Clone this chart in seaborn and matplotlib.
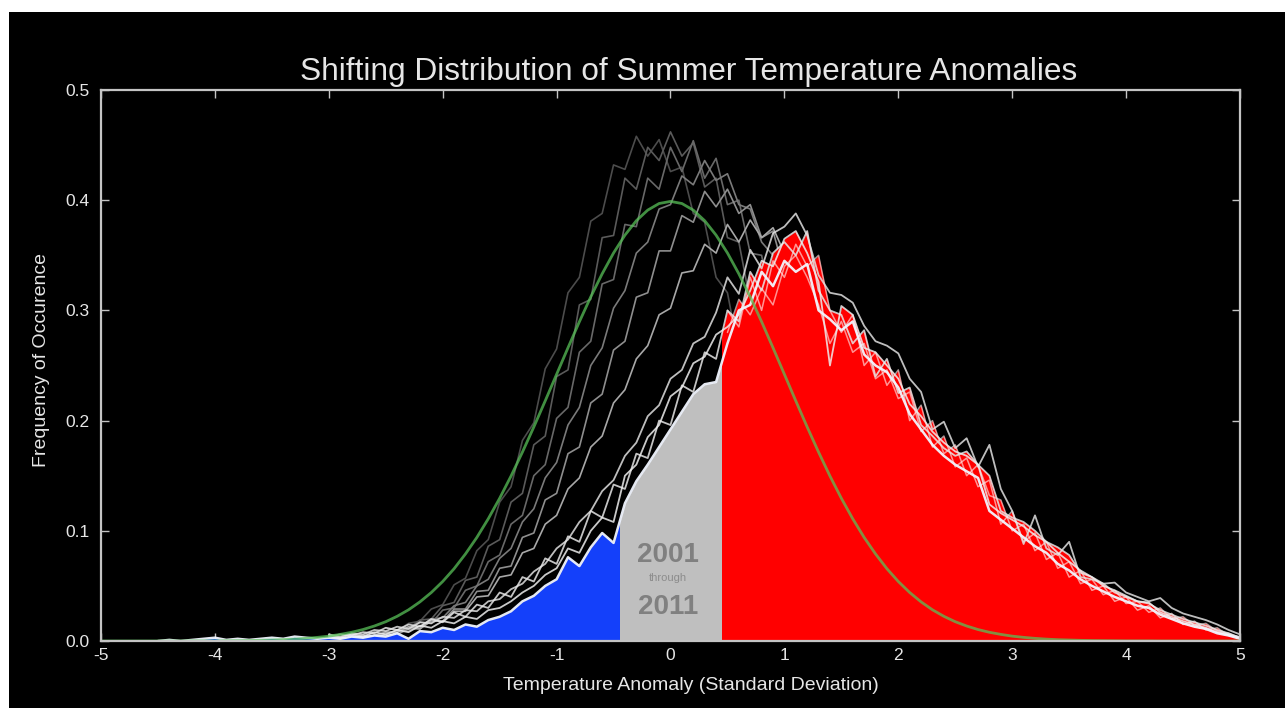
import numpy as np
import matplotlib
matplotlib.use("Agg")
import matplotlib.pyplot as plt
import seaborn as sns
from matplotlib.patches import Rectangle

# ---------------- data ----------------
STEP = 0.1

# reference normal curve (green), x = -5.0 .. 5.0
green_start = -5.0
green_y = [0.0000, 0.0000, 0.0000, 0.0000, 0.0000, 0.0000, 0.0000, 0.0000, 0.0001, 0.0001,
           0.0001, 0.0002, 0.0003, 0.0004, 0.0006, 0.0009, 0.0012, 0.0017, 0.0024, 0.0033,
           0.0044, 0.0060, 0.0079, 0.0104, 0.0136, 0.0175, 0.0224, 0.0283, 0.0355, 0.0440,
           0.0540, 0.0656, 0.0790, 0.0940, 0.1109, 0.1295, 0.1497, 0.1714, 0.1942, 0.2179,
           0.2420, 0.2661, 0.2897, 0.3123, 0.3332, 0.3521, 0.3683, 0.3814, 0.3910, 0.3970,
           0.3989,
           0.3970, 0.3910, 0.3814, 0.3683, 0.3521, 0.3332, 0.3123, 0.2897, 0.2661, 0.2420,
           0.2179, 0.1942, 0.1714, 0.1497, 0.1295, 0.1109, 0.0940, 0.0790, 0.0656, 0.0540,
           0.0440, 0.0355, 0.0283, 0.0224, 0.0175, 0.0136, 0.0104, 0.0079, 0.0060, 0.0044,
           0.0033, 0.0024, 0.0017, 0.0012, 0.0009, 0.0006, 0.0004, 0.0003, 0.0002, 0.0001,
           0.0001, 0.0001, 0.0000, 0.0000, 0.0000, 0.0000, 0.0000, 0.0000, 0.0000, 0.0000]

# earlier years (grey lines), x = -3.0 .. 1.5
old_start = -3.0
old_c1 = [0.001, 0.002, 0.002, 0.004, 0.004, 0.008, 0.009, 0.016, 0.018, 0.029,
          0.033, 0.051, 0.057, 0.082, 0.092, 0.126, 0.140, 0.182, 0.198, 0.247,
          0.265, 0.316, 0.330, 0.381, 0.388, 0.432, 0.428, 0.458, 0.440, 0.455,
          0.426, 0.430, 0.388, 0.380, 0.330, 0.316, 0.262, 0.246, 0.196, 0.180,
          0.138, 0.124, 0.091, 0.080, 0.057, 0.049]
old_c2 = [0.001, 0.001, 0.003, 0.003, 0.005, 0.006, 0.010, 0.011, 0.019, 0.020,
          0.032, 0.035, 0.055, 0.058, 0.086, 0.092, 0.126, 0.134, 0.178, 0.186,
          0.240, 0.246, 0.305, 0.310, 0.366, 0.368, 0.420, 0.410, 0.448, 0.436,
          0.462, 0.440, 0.452, 0.412, 0.420, 0.366, 0.362, 0.308, 0.300, 0.246,
          0.232, 0.186, 0.172, 0.132, 0.122, 0.088]
old_c3 = [0.002, 0.001, 0.003, 0.002, 0.005, 0.005, 0.010, 0.009, 0.017, 0.016,
          0.028, 0.030, 0.046, 0.050, 0.072, 0.078, 0.106, 0.114, 0.150, 0.160,
          0.202, 0.212, 0.262, 0.272, 0.324, 0.328, 0.378, 0.376, 0.420, 0.410,
          0.448, 0.426, 0.454, 0.420, 0.438, 0.396, 0.400, 0.352, 0.350, 0.298,
          0.290, 0.240, 0.232, 0.184, 0.174, 0.136]
old_c4 = [0.001, 0.002, 0.002, 0.004, 0.004, 0.007, 0.008, 0.012, 0.013, 0.020,
          0.021, 0.032, 0.035, 0.050, 0.056, 0.075, 0.084, 0.108, 0.120, 0.148,
          0.162, 0.196, 0.212, 0.250, 0.266, 0.302, 0.318, 0.352, 0.362, 0.392,
          0.396, 0.422, 0.414, 0.436, 0.418, 0.424, 0.396, 0.392, 0.362, 0.350,
          0.318, 0.300, 0.266, 0.246, 0.212, 0.190]
old_c5 = [0.001, 0.002, 0.002, 0.003, 0.004, 0.006, 0.006, 0.011, 0.011, 0.018,
          0.018, 0.029, 0.029, 0.045, 0.046, 0.066, 0.068, 0.094, 0.098, 0.128,
          0.134, 0.170, 0.176, 0.216, 0.224, 0.264, 0.272, 0.312, 0.316, 0.354,
          0.354, 0.386, 0.380, 0.408, 0.394, 0.410, 0.388, 0.396, 0.366, 0.372,
          0.334, 0.332, 0.292, 0.288, 0.246, 0.240]
old_c6 = [0.002, 0.003, 0.003, 0.005, 0.005, 0.008, 0.008, 0.013, 0.011, 0.019,
          0.018, 0.027, 0.027, 0.040, 0.041, 0.058, 0.060, 0.080, 0.084, 0.106,
          0.114, 0.138, 0.148, 0.176, 0.186, 0.216, 0.228, 0.256, 0.268, 0.296,
          0.302, 0.334, 0.336, 0.360, 0.352, 0.378, 0.362, 0.382, 0.366, 0.375,
          0.352, 0.360, 0.330, 0.330, 0.298, 0.292]

# 2001-2011 years (white lines), x = -3.0 .. 5.0 (w4 from -4.5)
new_start = -3.0
new_w1 = ([0.006, 0.004, 0.007, 0.006, 0.010, 0.009, 0.013, 0.011, 0.017, 0.016,
           0.022, 0.021, 0.028, 0.027, 0.036, 0.038, 0.047, 0.052, 0.063, 0.070,
           0.084, 0.092, 0.108, 0.118, 0.136, 0.146, 0.168, 0.180, 0.204, 0.214,
           0.238, 0.246, 0.270, 0.276, 0.298] +
          [0.330, 0.315, 0.355, 0.338, 0.370, 0.376, 0.388, 0.368, 0.332, 0.316,
           0.314, 0.307, 0.286, 0.272, 0.268, 0.261, 0.238, 0.226, 0.192, 0.199,
           0.175, 0.184, 0.158, 0.178, 0.138, 0.118, 0.088, 0.114, 0.084, 0.078,
           0.090, 0.058, 0.056, 0.052, 0.053, 0.044, 0.040, 0.036, 0.039, 0.030,
           0.025, 0.022, 0.019, 0.015, 0.010, 0.006])
new_w2 = ([0.004, 0.006, 0.005, 0.008, 0.007, 0.012, 0.010, 0.015, 0.013, 0.020,
           0.017, 0.026, 0.022, 0.033, 0.030, 0.044, 0.040, 0.058, 0.054, 0.075,
           0.070, 0.095, 0.090, 0.118, 0.112, 0.142, 0.138, 0.170, 0.166, 0.200,
           0.196, 0.232, 0.226, 0.262, 0.256] +
          [0.300, 0.290, 0.335, 0.318, 0.352, 0.362, 0.350, 0.372, 0.318, 0.300,
           0.296, 0.270, 0.282, 0.240, 0.256, 0.225, 0.230, 0.196, 0.186, 0.175,
           0.168, 0.172, 0.160, 0.150, 0.118, 0.112, 0.108, 0.100, 0.090, 0.085,
           0.078, 0.062, 0.058, 0.052, 0.044, 0.040, 0.036, 0.034, 0.028, 0.024,
           0.020, 0.017, 0.014, 0.010, 0.007, 0.003])
new_w3 = ([0.005, 0.003, 0.006, 0.004, 0.008, 0.006, 0.010, 0.008, 0.014, 0.012,
           0.018, 0.016, 0.022, 0.020, 0.028, 0.030, 0.036, 0.044, 0.050, 0.060,
           0.066, 0.084, 0.080, 0.100, 0.112, 0.108, 0.150, 0.160, 0.185, 0.196,
           0.222, 0.230, 0.252, 0.258, 0.278] +
          [0.285, 0.296, 0.318, 0.345, 0.340, 0.365, 0.372, 0.352, 0.326, 0.250,
           0.304, 0.296, 0.266, 0.262, 0.250, 0.238, 0.215, 0.204, 0.190, 0.180,
           0.172, 0.168, 0.160, 0.124, 0.116, 0.110, 0.104, 0.096, 0.090, 0.080,
           0.072, 0.064, 0.058, 0.050, 0.046, 0.041, 0.036, 0.035, 0.026, 0.022,
           0.018, 0.015, 0.012, 0.008, 0.006, 0.003])
w4_start = -4.5
new_w4 = ([0.000, 0.001, 0.000, 0.001, 0.002, 0.003, 0.001, 0.002, 0.001, 0.002,
           0.003, 0.002, 0.004, 0.003, 0.002] +
          [0.003, 0.002, 0.004, 0.003, 0.005, 0.004, 0.007, 0.002, 0.009, 0.008,
           0.012, 0.010, 0.015, 0.013, 0.019, 0.022, 0.027, 0.036, 0.041, 0.050,
           0.056, 0.076, 0.068, 0.085, 0.098, 0.089, 0.125, 0.145, 0.160, 0.176,
           0.192, 0.208, 0.224, 0.233, 0.235] +
          [0.270, 0.300, 0.305, 0.335, 0.322, 0.345, 0.335, 0.342, 0.300, 0.292,
           0.282, 0.290, 0.260, 0.250, 0.244, 0.230, 0.206, 0.192, 0.178, 0.168,
           0.160, 0.154, 0.148, 0.118, 0.110, 0.102, 0.094, 0.086, 0.080, 0.070,
           0.064, 0.056, 0.050, 0.045, 0.040, 0.036, 0.032, 0.030, 0.024, 0.020,
           0.016, 0.013, 0.011, 0.007, 0.005, 0.002])
# further 2001-2011 years inside the red area, x = 0.5 .. 5.0
warm_start = 0.5
new_w5 = [0.280, 0.310, 0.296, 0.320, 0.305, 0.340, 0.350, 0.330, 0.305, 0.270,
          0.290, 0.262, 0.270, 0.238, 0.246, 0.220, 0.226, 0.190, 0.200, 0.170,
          0.178, 0.150, 0.160, 0.132, 0.128, 0.100, 0.106, 0.082, 0.090, 0.066,
          0.072, 0.052, 0.056, 0.042, 0.046, 0.034, 0.036, 0.026, 0.030, 0.020,
          0.022, 0.014, 0.016, 0.009, 0.007, 0.003]
new_w6 = [0.300, 0.285, 0.330, 0.300, 0.345, 0.330, 0.360, 0.340, 0.350, 0.300,
          0.280, 0.296, 0.250, 0.262, 0.232, 0.246, 0.200, 0.214, 0.176, 0.186,
          0.158, 0.166, 0.140, 0.146, 0.106, 0.118, 0.090, 0.098, 0.074, 0.080,
          0.058, 0.064, 0.046, 0.050, 0.036, 0.040, 0.028, 0.032, 0.021, 0.025,
          0.015, 0.018, 0.010, 0.012, 0.005, 0.004]

cold_edge, hot_edge = -0.44, 0.45          # colour band boundaries
x_ticks = [-5, -4, -3, -2, -1, 0, 1, 2, 3, 4, 5]
y_ticks = [0.0, 0.1, 0.2, 0.3, 0.4, 0.5]
title = "Shifting Distribution of Summer Temperature Anomalies"
x_label = "Temperature Anomaly (Standard Deviation)"
y_label = "Frequency of Occurence"
band_text = ["2001", "through", "2011"]

# ---------------- styling ----------------
BLUE = "#1440fa"
RED = "#ff0000"
GREY = "#bfbfbf"
FRAME = "#c4c4c4"
TXT = "#e6e6e6"

sns.set_theme(style="dark")
plt.rcParams['font.family'] = ['Liberation Sans', 'DejaVu Sans']


def grid_for(arr, start):
    return np.round(start + STEP * np.arange(len(arr)), 3)


W, H = 1285, 708
fig = plt.figure(figsize=(W / 100, H / 100), dpi=100, facecolor="white")
fig.patches.append(Rectangle((9 / W, 0), 1, 1 - 12 / H, transform=fig.transFigure,
                             facecolor="black", edgecolor="none", zorder=-10))
ax = fig.add_axes([101 / W, 1 - 641 / H, (1240 - 101) / W, (641 - 90) / H])
ax.set_facecolor("black")
ax.grid(False)

# earlier years: grey lines (behind fills)
old_curves = [old_c1, old_c2, old_c3, old_c4, old_c5, old_c6]
old_cols = ["#4c4c4c", "#5a5a5a", "#686868", "#7a7a7a", "#8e8e8e", "#a8a8a8"]
for c, col in zip(old_curves, old_cols):
    sns.lineplot(x=grid_for(c, old_start), y=c, ax=ax, color=col, lw=1.2,
                 estimator=None, sort=False, legend=False, zorder=1)

x_w1 = grid_for(new_w1, new_start)
x_w2 = grid_for(new_w2, new_start)
x_w3 = grid_for(new_w3, new_start)
x_w4 = grid_for(new_w4, w4_start)
x_w5 = grid_for(new_w5, warm_start)
x_w6 = grid_for(new_w6, warm_start)


def clip_rect(x0, x1):
    return Rectangle((x0, -0.1), x1 - x0, 1.0, transform=ax.transData)


# coloured fills under the 2001-2011 distributions
fb = ax.fill_between(x_w4, 0, new_w4, color=BLUE, lw=0, zorder=2)
fb.set_clip_path(clip_rect(-5.5, cold_edge))
fg = ax.fill_between(x_w4, 0, new_w4, color=GREY, lw=0, zorder=2)
fg.set_clip_path(clip_rect(cold_edge, hot_edge))
for xx, c in [(x_w2, new_w2), (x_w3, new_w3), (x_w4, new_w4), (x_w5, new_w5), (x_w6, new_w6)]:
    fr = ax.fill_between(xx, 0, c, color=RED, lw=0, zorder=2)
    fr.set_clip_path(clip_rect(hot_edge, 5.5))

# 2001-2011 white lines
for xx, c, col, lw, a in [(x_w5, new_w5, "#ffe0e0", 1.1, 0.65),
                          (x_w6, new_w6, "#ffe6e6", 1.1, 0.65),
                          (x_w1, new_w1, "#e0e0e0", 1.3, 0.85),
                          (x_w2, new_w2, "#e6e6e6", 1.3, 0.85),
                          (x_w3, new_w3, "#eeeeee", 1.3, 0.85),
                          (x_w4, new_w4, "#f2f6ff", 1.8, 0.95)]:
    sns.lineplot(x=xx, y=c, ax=ax, color=col, lw=lw, alpha=a,
                 estimator=None, sort=False, legend=False, zorder=3)

# reference normal distribution
sns.lineplot(x=grid_for(green_y, green_start), y=green_y, ax=ax, color="#58c058",
             lw=2.0, alpha=0.75, estimator=None, sort=False, legend=False, zorder=4)

# band annotation
ax.text(-0.02, 0.078, band_text[0], ha="center", va="center", fontsize=20,
        fontweight="bold", color="#808080", zorder=5)
ax.text(-0.02, 0.057, band_text[1], ha="center", va="center", fontsize=8,
        color="#8c8c8c", zorder=5)
ax.text(-0.02, 0.031, band_text[2], ha="center", va="center", fontsize=20,
        fontweight="bold", color="#808080", zorder=5)

# axes
ax.set_xlim(-5, 5)
ax.set_ylim(0, 0.5)
ax.set_xticks(x_ticks)
ax.set_xticklabels([str(t) for t in x_ticks])
ax.set_yticks(y_ticks)
ax.set_yticklabels([f"{t:.1f}" for t in y_ticks])
ax.tick_params(direction="in", bottom=True, left=True, top=True, right=True,
               length=6, width=1, color=FRAME, labelcolor=TXT, labelsize=12.5)
ax.tick_params(axis="x", pad=5)
ax.tick_params(axis="y", pad=8)
ax.set_xlabel("")
ax.set_ylabel("")
for s in ax.spines.values():
    s.set_visible(True)
    s.set_color(FRAME)
    s.set_linewidth(1.6)
    s.set_zorder(6)

fig.text(689 / W, 1 - 80 / H, title, ha="center", va="baseline", fontsize=22.8,
         color=TXT)
fig.text(691 / W, 1 - 686 / H, x_label, ha="center", va="center", fontsize=14,
         color=TXT)
fig.text(42 / W, 1 - 360 / H, y_label, ha="center", va="center", rotation=90,
         fontsize=14, color=TXT)

fig.savefig("out.png", dpi=100, facecolor=fig.get_facecolor())
